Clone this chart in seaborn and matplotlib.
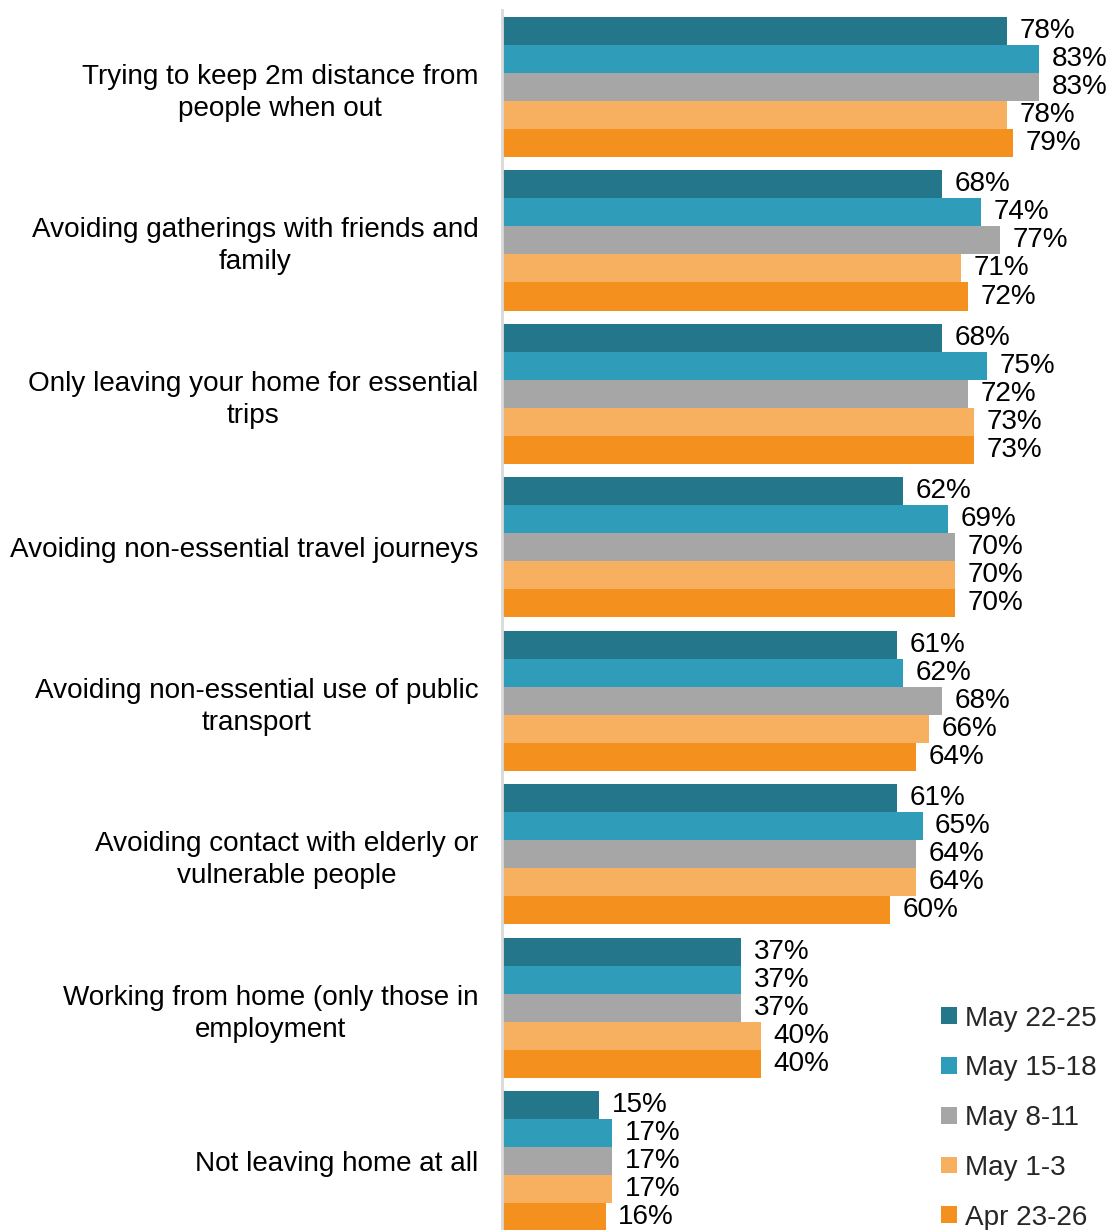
import matplotlib
matplotlib.use("Agg")
import matplotlib.pyplot as plt
import seaborn as sns
import pandas as pd

categories = [
    "Trying to keep 2m distance from\npeople when out",
    "Avoiding gatherings with friends and\nfamily",
    "Only leaving your home for essential\ntrips",
    "Avoiding non-essential travel journeys",
    "Avoiding non-essential use of public\ntransport",
    "Avoiding contact with elderly or\nvulnerable people",
    "Working from home (only those in\nemployment",
    "Not leaving home at all",
]
periods = ["May 22-25", "May 15-18", "May 8-11", "May 1-3", "Apr 23-26"]

may_22_25 = [78, 68, 68, 62, 61, 61, 37, 15]
may_15_18 = [83, 74, 75, 69, 62, 65, 37, 17]
may_8_11 = [83, 77, 72, 70, 68, 64, 37, 17]
may_1_3 = [78, 71, 73, 70, 66, 64, 40, 17]
apr_23_26 = [79, 72, 73, 70, 64, 60, 40, 16]

colors = ["#24768A", "#2F9DB9", "#A6A6A6", "#F7B060", "#F4901D"]

series = [may_22_25, may_15_18, may_8_11, may_1_3, apr_23_26]
rows = []
for period, vals in zip(periods, series):
    for cat, v in zip(categories, vals):
        rows.append({"category": cat, "period": period, "value": v})
df = pd.DataFrame(rows)

sns.set_theme(style="white")
plt.rcParams["font.family"] = ["Liberation Sans", "DejaVu Sans"]
FS = 20.1

fig = plt.figure(figsize=(11.15, 12.3), dpi=100)
ax = fig.add_axes([502 / 1115, -0.0063, 1 - 502 / 1115, 0.9916 + 0.0063])

sns.barplot(
    data=df, y="category", x="value", hue="period",
    order=categories, hue_order=periods, palette=colors,
    orient="h", width=0.913, saturation=1, ax=ax, legend=True,
    linewidth=0,
)

ax.set_xlim(0, (1115 - 502) / 647 * 100)
ax.set_ylim(len(categories) - 0.5, -0.5)

for cont, vals in zip(ax.containers, series):
    ax.bar_label(cont, labels=[f"{v}%" for v in vals], padding=9,
                 fontsize=FS, color="black")

ax.set_xlabel("")
ax.set_ylabel("")
ax.set_xticks([])
ax.tick_params(axis="y", length=0, pad=17, labelsize=FS, labelcolor="black")
for lbl in ax.get_yticklabels():
    lbl.set_multialignment("center")
    lbl.set_linespacing(1.3)

for s in ["top", "right", "bottom"]:
    ax.spines[s].set_visible(False)
ax.spines["left"].set_color("#D9D9D9")
ax.spines["left"].set_linewidth(2)

handles, labels = ax.get_legend_handles_labels()
ax.legend(
    handles, labels, loc="lower left",
    bbox_to_anchor=(930 / 1115, -0.0095), bbox_transform=fig.transFigure,
    frameon=False, fontsize=FS, handlelength=0.55, handleheight=0.55,
    handletextpad=0.3, labelspacing=0.85, borderaxespad=0,
)

fig.savefig("out.png", dpi=100)
